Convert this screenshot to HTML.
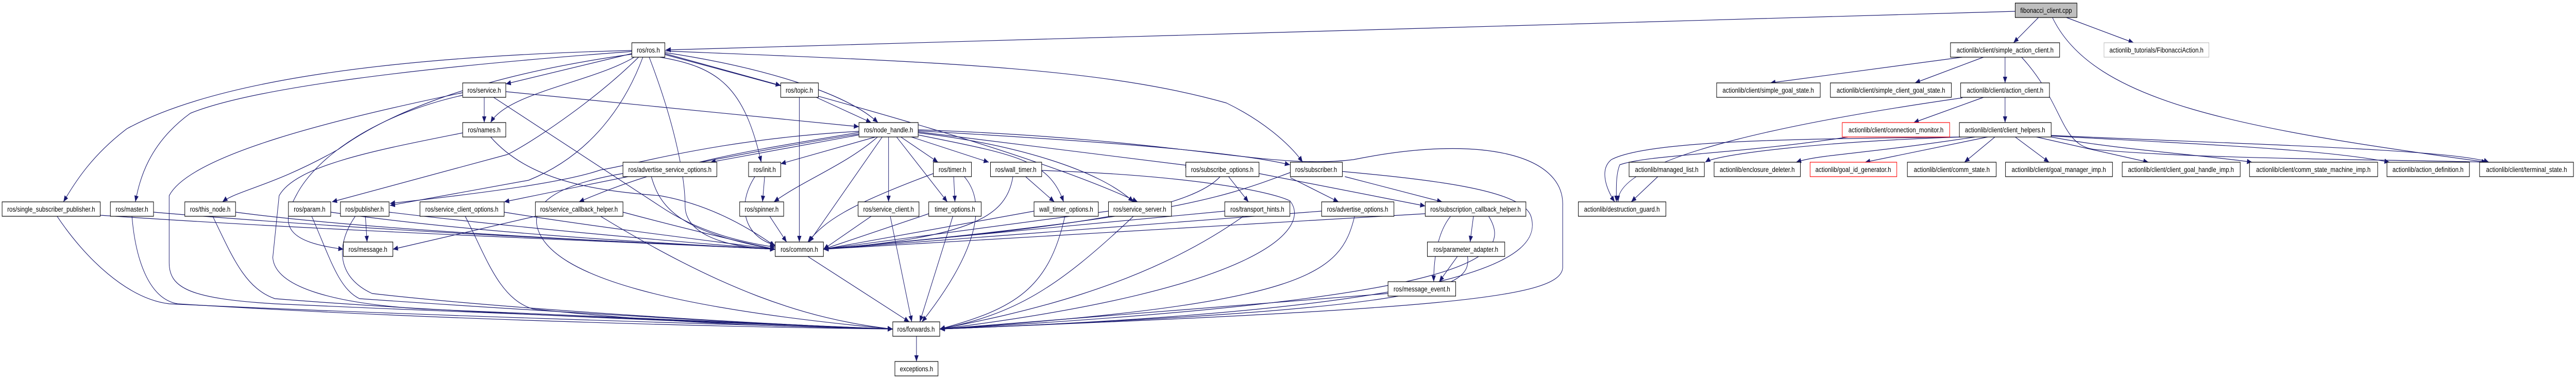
<!DOCTYPE html>
<html><head><meta charset="utf-8"><style>
html,body{margin:0;padding:0;background:#fff;overflow:hidden;width:6091px;height:736px;}
svg{display:block;width:100vw;height:100vh;}
text{font-family:"Liberation Sans",sans-serif;font-size:14px;fill:#000;}
.e path{fill:none;stroke:#191970;stroke-width:1.2;}
</style></head><body>
<svg viewBox="0 0 6091 736" preserveAspectRatio="none" xmlns="http://www.w3.org/2000/svg">
<defs><marker id="a" markerUnits="userSpaceOnUse" markerWidth="14" markerHeight="10" refX="12" refY="5" orient="auto"><path d="M0 0 L12 5 L0 10 Z" fill="#191970"/></marker></defs>
<g class="e">
<path marker-end="url(#a)" d="M4765 22 C3500 50,2500 70,1574 97"/>
<path marker-end="url(#a)" d="M4820 34 L4761 83"/>
<path marker-end="url(#a)" d="M4886 34 L5045 83"/>
<path marker-end="url(#a)" d="M4853 34 C4950 200,5300 250,5880 315"/>
<path marker-end="url(#a)" d="M4640 111 L4186 161"/>
<path marker-end="url(#a)" d="M4690 111 L4528 161"/>
<path marker-end="url(#a)" d="M4741 111 L4741 161"/>
<path marker-end="url(#a)" d="M4780 111 C4880 200,4870 280,4950 290 C5200 310,5700 310,5880 315"/>
<path marker-end="url(#a)" d="M4690 189 L4525 238"/>
<path marker-end="url(#a)" d="M4741 189 L4741 238"/>
<path marker-end="url(#a)" d="M4640 190 C4300 230,3820 300,3826 392"/>
<path marker-end="url(#a)" d="M4640 266 C4300 275,4060 300,4032 315"/>
<path marker-end="url(#a)" d="M4670 266 C4400 300,4300 300,4247 315"/>
<path marker-end="url(#a)" d="M4700 266 L4410 315"/>
<path marker-end="url(#a)" d="M4717 266 L4645 315"/>
<path marker-end="url(#a)" d="M4765 266 L4845 315"/>
<path marker-end="url(#a)" d="M4815 266 L5080 315"/>
<path marker-end="url(#a)" d="M4850 266 C5000 290,5200 300,5325 315"/>
<path marker-end="url(#a)" d="M4850 264 C5200 280,5500 290,5650 315"/>
<path marker-end="url(#a)" d="M4850 263 C5300 280,5800 290,5885 315"/>
<path marker-end="url(#a)" d="M4636 266 C4300 270,3900 270,3810 310 C3780 330,3800 370,3818 392"/>
<path marker-end="url(#a)" d="M4370 266 C4100 300,3900 300,3830 320 C3820 340,3822 370,3822 392"/>
<path marker-end="url(#a)" d="M3920 343 L3857 392"/>
<path marker-end="url(#a)" d="M1494 104 L1196 163"/>
<path marker-end="url(#a)" d="M1500 111 C1400 160,1200 180,1160 238"/>
<path marker-end="url(#a)" d="M1494 98 C900 110,500 160,300 250 C220 300,180 350,150 392"/>
<path marker-end="url(#a)" d="M1494 100 C1000 130,600 170,450 220 C350 280,330 350,320 392"/>
<path marker-end="url(#a)" d="M1496 105 C1100 150,900 230,800 290 C650 360,560 370,526 392"/>
<path marker-end="url(#a)" d="M1510 111 C1400 200,1250 280,1200 300 L785 392"/>
<path marker-end="url(#a)" d="M1520 111 C1480 200,1400 300,1250 350 L922 399"/>
<path marker-end="url(#a)" d="M1572 104 L1846 166"/>
<path marker-end="url(#a)" d="M1572 102 C1800 130,2000 180,2076 238"/>
<path marker-end="url(#a)" d="M1560 111 C1700 130,1760 170,1800 315"/>
<path marker-end="url(#a)" d="M1535 111 C1600 250,1620 350,1620 400 C1620 450,1700 480,1833 484"/>
<path marker-end="url(#a)" d="M1572 106 C2000 200,2450 300,2690 392"/>
<path marker-end="url(#a)" d="M1572 99 C2200 120,2600 130,2900 200 C3000 240,3060 290,3080 315"/>
<path marker-end="url(#a)" d="M1145 189 L1145 238"/>
<path marker-end="url(#a)" d="M1196 178 L2031 246"/>
<path marker-end="url(#a)" d="M1167 189 L1560 400 C1650 450,1750 470,1833 480"/>
<path marker-end="url(#a)" d="M1094 180 C800 230,450 300,400 380 L400 510 C400 560,450 580,650 590 C1200 610,1800 630,2111 639"/>
<path marker-end="url(#a)" d="M1094 185 C900 220,750 300,700 380 C660 440,680 470,812 484"/>
<path marker-end="url(#a)" d="M1094 258 C900 290,700 320,660 380 L645 500 C650 560,800 590,1000 600 C1500 620,1900 635,2111 639"/>
<path marker-end="url(#a)" d="M1160 266 C1250 350,1400 370,1560 380 C1700 400,1800 460,1833 478"/>
<path marker-end="url(#a)" d="M237 418 C800 450,1500 470,1833 484"/>
<path marker-end="url(#a)" d="M135 420 C200 500,300 580,400 590 C900 610,1700 630,2111 639"/>
<path marker-end="url(#a)" d="M363 412 C900 450,1500 470,1833 484"/>
<path marker-end="url(#a)" d="M312 420 C320 500,350 580,420 590 C1000 620,1700 635,2111 639"/>
<path marker-end="url(#a)" d="M557 412 C900 450,1500 470,1833 484"/>
<path marker-end="url(#a)" d="M503 420 C550 500,580 560,650 580 C1100 610,1800 630,2111 639"/>
<path marker-end="url(#a)" d="M782 412 C1100 450,1500 470,1833 484"/>
<path marker-end="url(#a)" d="M737 420 C780 500,800 560,850 580 C1200 600,1800 630,2111 639"/>
<path marker-end="url(#a)" d="M864 420 L868 470"/>
<path marker-end="url(#a)" d="M920 412 C1200 440,1600 470,1833 484"/>
<path marker-end="url(#a)" d="M840 420 C790 480,800 540,880 570 C1200 600,1800 630,2111 639"/>
<path marker-end="url(#a)" d="M1192 412 C1400 440,1700 470,1833 484"/>
<path marker-end="url(#a)" d="M1100 420 C1150 500,1180 580,1260 600 C1600 630,1900 635,2111 639"/>
<path marker-end="url(#a)" d="M1266 420 L929 484"/>
<path marker-end="url(#a)" d="M1473 412 C1600 440,1750 470,1833 484"/>
<path marker-end="url(#a)" d="M1420 420 C1700 560,1900 620,2111 639"/>
<path marker-end="url(#a)" d="M1540 343 C1560 400,1600 450,1833 484"/>
<path marker-end="url(#a)" d="M1480 336 C1300 360,1260 400,1270 440 C1300 540,1600 600,2111 639"/>
<path marker-end="url(#a)" d="M2031 262 L1680 315"/>
<path marker-end="url(#a)" d="M2070 266 L1846 318"/>
<path marker-end="url(#a)" d="M2075 266 C2000 320,1900 350,1830 392"/>
<path marker-end="url(#a)" d="M2086 266 L1913 470"/>
<path marker-end="url(#a)" d="M2101 266 L2101 392"/>
<path marker-end="url(#a)" d="M2130 266 L2218 315"/>
<path marker-end="url(#a)" d="M2120 266 L2240 392"/>
<path marker-end="url(#a)" d="M2155 266 L2338 315"/>
<path marker-end="url(#a)" d="M2171 262 C2400 300,2480 310,2515 392"/>
<path marker-end="url(#a)" d="M2171 258 C2400 280,2600 330,2680 392"/>
<path marker-end="url(#a)" d="M2171 256 L2815 322"/>
<path marker-end="url(#a)" d="M2171 254 C2500 270,2900 290,3050 320"/>
<path marker-end="url(#a)" d="M2031 255 C1700 270,1500 320,1420 330 C1350 350,1200 370,922 395"/>
<path marker-end="url(#a)" d="M2031 260 C1800 290,1500 340,1192 392"/>
<path marker-end="url(#a)" d="M2031 257 C1800 290,1600 310,1369 392"/>
<path marker-end="url(#a)" d="M2171 252 C2800 270,3000 330,3200 310 C3500 260,3700 300,3695 400 L3695 520 C3690 580,3400 600,2222 639"/>
<path marker-end="url(#a)" d="M1808 343 L1803 392"/>
<path marker-end="url(#a)" d="M1785 343 C1740 400,1760 460,1833 476"/>
<path marker-end="url(#a)" d="M1820 420 L1860 470"/>
<path marker-end="url(#a)" d="M1930 189 L2060 238"/>
<path marker-end="url(#a)" d="M1890 189 L1890 470"/>
<path marker-end="url(#a)" d="M2255 343 L2258 392"/>
<path marker-end="url(#a)" d="M2207 337 C2000 400,1950 430,1910 470"/>
<path marker-end="url(#a)" d="M2280 343 C2340 400,2300 500,2180 625"/>
<path marker-end="url(#a)" d="M2425 343 L2493 392"/>
<path marker-end="url(#a)" d="M2395 343 C2380 420,2300 460,1947 484"/>
<path marker-end="url(#a)" d="M2463 331 C2800 340,3000 370,3050 390 C3100 440,3000 560,2222 639"/>
<path marker-end="url(#a)" d="M2060 420 L1947 484"/>
<path marker-end="url(#a)" d="M2105 420 L2156 625"/>
<path marker-end="url(#a)" d="M2196 415 L1947 484"/>
<path marker-end="url(#a)" d="M2253 420 L2175 625"/>
<path marker-end="url(#a)" d="M2445 410 L1947 484"/>
<path marker-end="url(#a)" d="M2518 420 C2480 560,2400 600,2222 639"/>
<path marker-end="url(#a)" d="M2621 410 L1947 484"/>
<path marker-end="url(#a)" d="M2680 420 C2500 560,2400 610,2222 639"/>
<path marker-end="url(#a)" d="M2905 343 L2952 392"/>
<path marker-end="url(#a)" d="M2885 343 C2800 420,2400 450,1947 484"/>
<path marker-end="url(#a)" d="M2977 337 L3370 400"/>
<path marker-end="url(#a)" d="M2896 410 L1947 484"/>
<path marker-end="url(#a)" d="M2940 420 C2700 560,2400 610,2222 639"/>
<path marker-end="url(#a)" d="M3051 335 C2900 380,2800 420,1947 484"/>
<path marker-end="url(#a)" d="M3180 343 L3410 392"/>
<path marker-end="url(#a)" d="M3051 345 L3165 392"/>
<path marker-end="url(#a)" d="M3174 333 C3400 350,3600 370,3620 420 C3650 500,3500 600,2222 639"/>
<path marker-end="url(#a)" d="M3125 410 L1947 484"/>
<path marker-end="url(#a)" d="M3203 420 C3170 530,3100 590,2222 639"/>
<path marker-end="url(#a)" d="M3484 420 L3476 470"/>
<path marker-end="url(#a)" d="M3430 420 C3400 450,3390 500,3390 547"/>
<path marker-end="url(#a)" d="M3370 415 L1947 484"/>
<path marker-end="url(#a)" d="M3520 420 C3580 500,3500 580,2222 639"/>
<path marker-end="url(#a)" d="M3446 498 L3403 547"/>
<path marker-end="url(#a)" d="M3470 498 C3480 560,3400 600,2222 639"/>
<path marker-end="url(#a)" d="M3282 570 L2222 639"/>
<path marker-end="url(#a)" d="M1910 498 L2150 625"/>
<path marker-end="url(#a)" d="M2167 653 L2167 702"/>
</g>
<g fill="#fff" stroke="#000" stroke-width="1.2">
<rect x="4765" y="6" width="146" height="28" fill="#bfbfbf"/>
<rect x="4612" y="83" width="258" height="28"/>
<rect x="4975" y="83" width="248" height="28" stroke="#bfbfbf"/>
<rect x="4059" y="161" width="245" height="28"/>
<rect x="4328" y="161" width="286" height="28"/>
<rect x="4636" y="161" width="210" height="28"/>
<rect x="4356" y="238" width="254" height="28" stroke="#ff0000"/>
<rect x="4633" y="238" width="217" height="28"/>
<rect x="3852" y="315" width="178" height="28"/>
<rect x="4053" y="315" width="204" height="28"/>
<rect x="4280" y="315" width="205" height="28" stroke="#ff0000"/>
<rect x="4510" y="315" width="210" height="28"/>
<rect x="4742" y="315" width="253" height="28"/>
<rect x="5018" y="315" width="279" height="28"/>
<rect x="5319" y="315" width="303" height="28"/>
<rect x="5644" y="315" width="195" height="28"/>
<rect x="5863" y="315" width="222" height="28"/>
<rect x="3732" y="392" width="207" height="28"/>
<rect x="1494" y="83" width="78" height="28"/>
<rect x="1094" y="161" width="102" height="28"/>
<rect x="1094" y="238" width="102" height="28"/>
<rect x="1846" y="161" width="89" height="28"/>
<rect x="2031" y="238" width="140" height="28"/>
<rect x="1473" y="315" width="222" height="28"/>
<rect x="1770" y="315" width="76" height="28"/>
<rect x="2207" y="315" width="90" height="28"/>
<rect x="2342" y="315" width="121" height="28"/>
<rect x="2804" y="315" width="173" height="28"/>
<rect x="3051" y="315" width="123" height="28"/>
<rect x="5" y="392" width="232" height="28"/>
<rect x="261" y="392" width="102" height="28"/>
<rect x="437" y="392" width="120" height="28"/>
<rect x="682" y="392" width="100" height="28"/>
<rect x="805" y="392" width="115" height="28"/>
<rect x="993" y="392" width="199" height="28"/>
<rect x="1266" y="392" width="207" height="28"/>
<rect x="1749" y="392" width="104" height="28"/>
<rect x="2029" y="392" width="144" height="28"/>
<rect x="2196" y="392" width="124" height="28"/>
<rect x="2445" y="392" width="152" height="28"/>
<rect x="2621" y="392" width="149" height="28"/>
<rect x="2896" y="392" width="154" height="28"/>
<rect x="3125" y="392" width="171" height="28"/>
<rect x="3370" y="392" width="238" height="28"/>
<rect x="812" y="470" width="117" height="28"/>
<rect x="1833" y="470" width="114" height="28"/>
<rect x="3375" y="470" width="183" height="28"/>
<rect x="3282" y="547" width="160" height="28"/>
<rect x="2111" y="625" width="111" height="28"/>
<rect x="2116" y="702" width="102" height="28"/>
</g>
<g text-anchor="middle">
<text x="4838" y="25">fibonacci_client.cpp</text>
<text x="4741" y="102">actionlib/client/simple_action_client.h</text>
<text x="5099" y="102">actionlib_tutorials/FibonacciAction.h</text>
<text x="4181" y="180">actionlib/client/simple_goal_state.h</text>
<text x="4471" y="180">actionlib/client/simple_client_goal_state.h</text>
<text x="4741" y="180">actionlib/client/action_client.h</text>
<text x="4483" y="257">actionlib/client/connection_monitor.h</text>
<text x="4741" y="257">actionlib/client/client_helpers.h</text>
<text x="3941" y="334">actionlib/managed_list.h</text>
<text x="4155" y="334">actionlib/enclosure_deleter.h</text>
<text x="4382" y="334">actionlib/goal_id_generator.h</text>
<text x="4615" y="334">actionlib/client/comm_state.h</text>
<text x="4868" y="334">actionlib/client/goal_manager_imp.h</text>
<text x="5157" y="334">actionlib/client/client_goal_handle_imp.h</text>
<text x="5470" y="334">actionlib/client/comm_state_machine_imp.h</text>
<text x="5741" y="334">actionlib/action_definition.h</text>
<text x="5974" y="334">actionlib/client/terminal_state.h</text>
<text x="3835" y="411">actionlib/destruction_guard.h</text>
<text x="1533" y="102">ros/ros.h</text>
<text x="1145" y="180">ros/service.h</text>
<text x="1145" y="257">ros/names.h</text>
<text x="1890" y="180">ros/topic.h</text>
<text x="2101" y="257">ros/node_handle.h</text>
<text x="1584" y="334">ros/advertise_service_options.h</text>
<text x="1808" y="334">ros/init.h</text>
<text x="2252" y="334">ros/timer.h</text>
<text x="2402" y="334">ros/wall_timer.h</text>
<text x="2890" y="334">ros/subscribe_options.h</text>
<text x="3112" y="334">ros/subscriber.h</text>
<text x="121" y="411">ros/single_subscriber_publisher.h</text>
<text x="312" y="411">ros/master.h</text>
<text x="497" y="411">ros/this_node.h</text>
<text x="732" y="411">ros/param.h</text>
<text x="862" y="411">ros/publisher.h</text>
<text x="1092" y="411">ros/service_client_options.h</text>
<text x="1369" y="411">ros/service_callback_helper.h</text>
<text x="1801" y="411">ros/spinner.h</text>
<text x="2101" y="411">ros/service_client.h</text>
<text x="2258" y="411">timer_options.h</text>
<text x="2521" y="411">wall_timer_options.h</text>
<text x="2695" y="411">ros/service_server.h</text>
<text x="2973" y="411">ros/transport_hints.h</text>
<text x="3210" y="411">ros/advertise_options.h</text>
<text x="3489" y="411">ros/subscription_callback_helper.h</text>
<text x="870" y="489">ros/message.h</text>
<text x="1890" y="489">ros/common.h</text>
<text x="3466" y="489">ros/parameter_adapter.h</text>
<text x="3362" y="566">ros/message_event.h</text>
<text x="2166" y="644">ros/forwards.h</text>
<text x="2167" y="721">exceptions.h</text>
</g>
</svg>
</body></html>
